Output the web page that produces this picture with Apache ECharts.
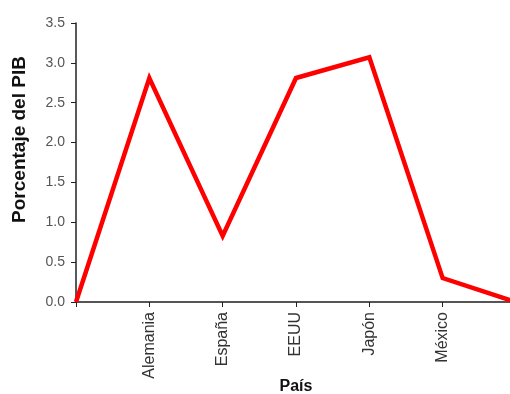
<!DOCTYPE html>
<html><head><meta charset="utf-8">
<script src="https://cdn.jsdelivr.net/npm/echarts@6/dist/echarts.min.js"></script>
<style>html,body{margin:0;padding:0;background:#fff}#c{width:510px;height:394px}</style>
</head><body><div id="c"></div>
<script>
const categories = ['', 'Alemania', 'España', 'EEUU', 'Japón', 'México', ''];
const values = [0, 2.81, 0.83, 2.81, 3.07, 0.30, 0];
const yTicks = { min: 0, max: 3.5, interval: 0.5 };

const chart = echarts.init(document.getElementById('c'), null, {renderer: 'canvas'});
chart.setOption({
  animation: false,
  backgroundColor: '#fff',
  grid: { left: 76, top: 23, width: 440, height: 279, outerBoundsMode: 'none', containLabel: false },
  xAxis: {
    type: 'category', data: categories, boundaryGap: false,
    name: 'País', nameLocation: 'middle', nameGap: 77, nameMoveOverlap: false,
    nameTextStyle: { fontFamily: 'Liberation Sans', fontWeight: 'bold', fontSize: 16, color: '#111' },
    axisLine: { lineStyle: { color: '#555', width: 2 } },
    axisTick: { show: true, length: 5, lineStyle: { color: '#222' } },
    axisLabel: { rotate: 90, fontFamily: 'Liberation Sans', fontSize: 16, color: '#333', margin: 10 },
    splitLine: { show: false }
  },
  yAxis: {
    type: 'value', min: yTicks.min, max: yTicks.max, interval: yTicks.interval,
    name: 'Porcentaje del PIB', nameLocation: 'middle', nameGap: 47, nameMoveOverlap: false,
    nameTextStyle: { fontFamily: 'Liberation Sans', fontWeight: 'bold', fontSize: 19, color: '#111',
      padding: [0, 0, 0, 46] },
    axisLine: { show: true, lineStyle: { color: '#222', width: 1.5 } },
    axisTick: { show: true, length: 5, lineStyle: { color: '#222' } },
    axisLabel: { fontFamily: 'Liberation Sans', fontSize: 14, color: '#555', margin: 11,
      formatter: v => v.toFixed(1) },
    splitLine: { show: false }
  },
  series: [{
    type: 'line', data: values, symbol: 'none',
    lineStyle: { color: '#f00', width: 4.5, join: 'miter' }
  }]
});
</script></body></html>
